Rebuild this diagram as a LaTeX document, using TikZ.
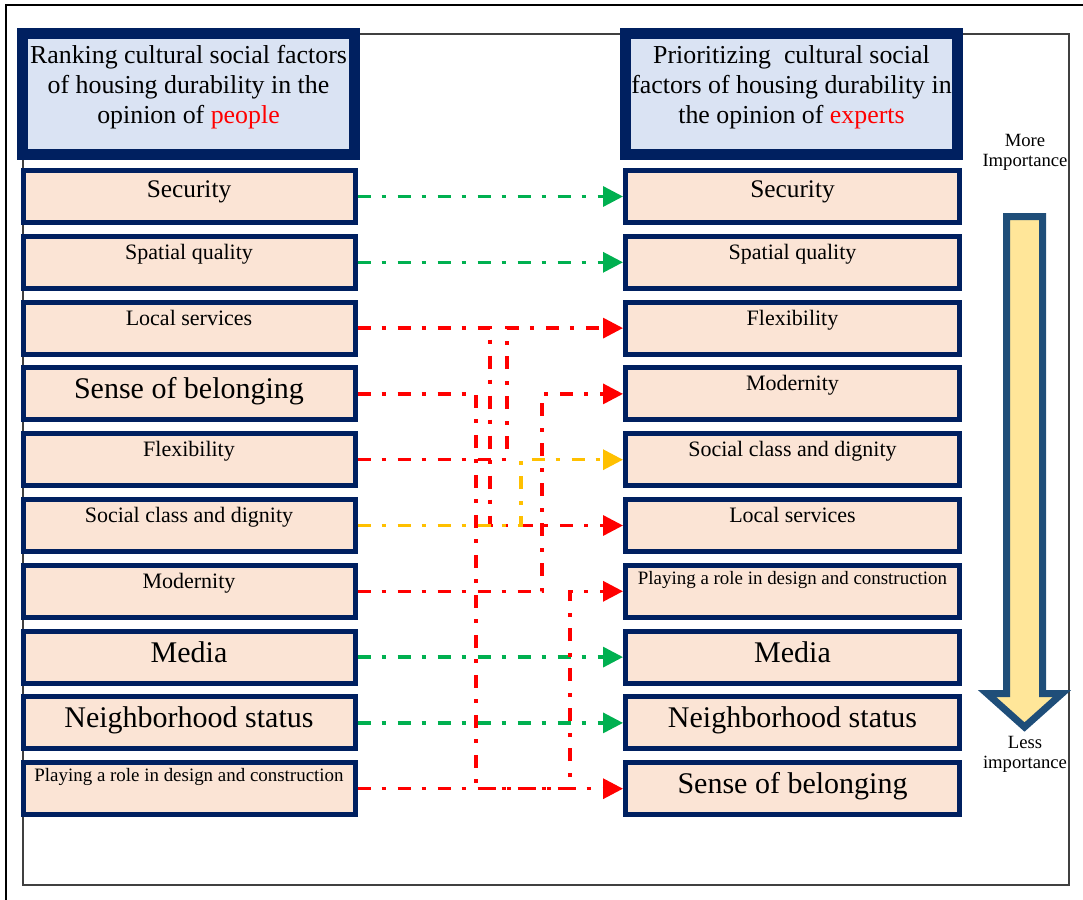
\documentclass[tikz,border=0pt]{standalone}
\usepackage{fontspec}
\setmainfont{Liberation Serif}
\usepackage{xcolor}
\usetikzlibrary{arrows.meta}

\definecolor{boxnavy}{HTML}{002060}
\definecolor{peach}{HTML}{FBE4D5}
\definecolor{paleblue}{HTML}{DAE3F3}
\definecolor{linkgreen}{HTML}{00B050}
\definecolor{linkred}{HTML}{FF0000}
\definecolor{linkgold}{HTML}{FFC000}
\definecolor{arrowblue}{HTML}{1F4E79}
\definecolor{arrowfill}{HTML}{FFE699}

\begin{document}
\begin{tikzpicture}[x=0.75pt, y=-0.75pt,
  rowbox/.style={draw=boxnavy, line width=3.75pt, fill=peach, minimum width=249pt, minimum height=39pt, inner sep=2pt},
  headbox/.style={draw=boxnavy, line width=8.25pt, fill=paleblue, minimum width=249pt, minimum height=90.75pt,
    inner xsep=0pt, align=center, font=\fontsize{19.4}{22.5}\selectfont, text height=58.5pt, text depth=15pt},
  bigtxt/.style={font=\fontsize{22.5}{27}\selectfont, text height=16pt, text depth=8.5pt},
  sectxt/.style={font=\fontsize{19}{23}\selectfont, text height=13pt, text depth=11.5pt},
  midtxt/.style={font=\fontsize{16.5}{20}\selectfont, text height=10pt, text depth=14.5pt},
  smalltxt/.style={font=\fontsize{14.2}{17}\selectfont, text height=8pt, text depth=18.5pt},
  sidetxt/.style={align=center, font=\fontsize{14}{15}\selectfont},
  link/.style={line width=2.5pt, dash pattern=on 9.75pt off 8.25pt on 3pt off 9pt, -{Triangle[length=15pt,width=15pt]}},
  greenlink/.style={link, draw=linkgreen},
  redlink/.style={link, draw=linkred},
  goldlink/.style={link, draw=linkgold}]

\useasboundingbox (0,0) rectangle (1083,900);
\clip (0,0) rectangle (1083,900);

% frames
\draw[line width=1.5pt] (6,5) rectangle (1100,920);
\draw[line width=1.5pt, black!75] (23,34) rectangle (1069,885);

% headers
\node[headbox] (peoplehead) at (188.5,94) {Ranking cultural social factors\\of housing durability in the\\opinion of \textcolor{linkred}{people}};
\node[headbox] (experthead) at (791.5,94) {Prioritizing\ \ cultural social\\factors of housing durability in\\the opinion of \textcolor{linkred}{experts}};

% ranking of people
\foreach \i/\txt/\sty in {1/Security/sectxt, 2/Spatial quality/midtxt, 3/Local services/midtxt,
    4/Sense of belonging/bigtxt, 5/Flexibility/midtxt, 6/Social class and dignity/midtxt,
    7/Modernity/midtxt, 8/Media/bigtxt, 9/Neighborhood status/bigtxt,
    10/Playing a role in design and construction/smalltxt}
  \node[rowbox, \sty] (l\i) at (189,{196.5+65.8*(\i-1)}) {\txt};

% ranking of experts
\foreach \i/\txt/\sty in {1/Security/sectxt, 2/Spatial quality/midtxt, 3/Flexibility/midtxt,
    4/Modernity/midtxt, 5/Social class and dignity/midtxt, 6/Local services/midtxt,
    7/Playing a role in design and construction/smalltxt, 8/Media/bigtxt,
    9/Neighborhood status/bigtxt, 10/Sense of belonging/bigtxt}
  \node[rowbox, \sty, minimum width=250.5pt] (r\i) at (792.5,{196.5+65.8*(\i-1)}) {\txt};

% vertical lanes
\coordinate (vbelong) at (476,0);
\coordinate (vlocal) at (490,0);
\coordinate (vflex) at (507,0);
\coordinate (vclass) at (521,0);
\coordinate (vmodern) at (542,0);
\coordinate (vrole) at (570,0);

\draw[greenlink] (l1.east) -- (r1.west);
\draw[greenlink] (l2.east) -- (r2.west);
\draw[redlink] (l3.east) -- (l3.east -| vlocal) -- (vlocal |- r6.west) -- (r6.west);
\draw[redlink] (l4.east) -- (l4.east -| vbelong) -- (vbelong |- r10.west) -- (r10.west);
\draw[redlink] (l5.east) -- (l5.east -| vflex) -- (vflex |- r3.west) -- (r3.west);
\draw[goldlink] (l6.east) -- (l6.east -| vclass) -- (vclass |- r5.west) -- (r5.west);
\draw[redlink] (l7.east) -- (l7.east -| vmodern) -- (vmodern |- r4.west) -- (r4.west);
\draw[greenlink] (l8.east) -- (r8.west);
\draw[greenlink] (l9.east) -- (r9.west);
\draw[redlink] (l10.east) -- (l10.east -| vrole) -- (vrole |- r7.west) -- (r7.west);

% importance arrow
\draw[line width=5.25pt, draw=arrowblue, fill=arrowfill] (1006.5,216.5) -- (1042.5,216.5) -- (1042.5,693.5)
  -- (1062,693.5) -- (1024.5,727) -- (987,693.5) -- (1006.5,693.5) -- cycle;
\node[sidetxt] (more) at (1025,152) {More\\Importance};
\node[sidetxt] (less) at (1025,754) {Less\\importance};
\end{tikzpicture}
\end{document}
